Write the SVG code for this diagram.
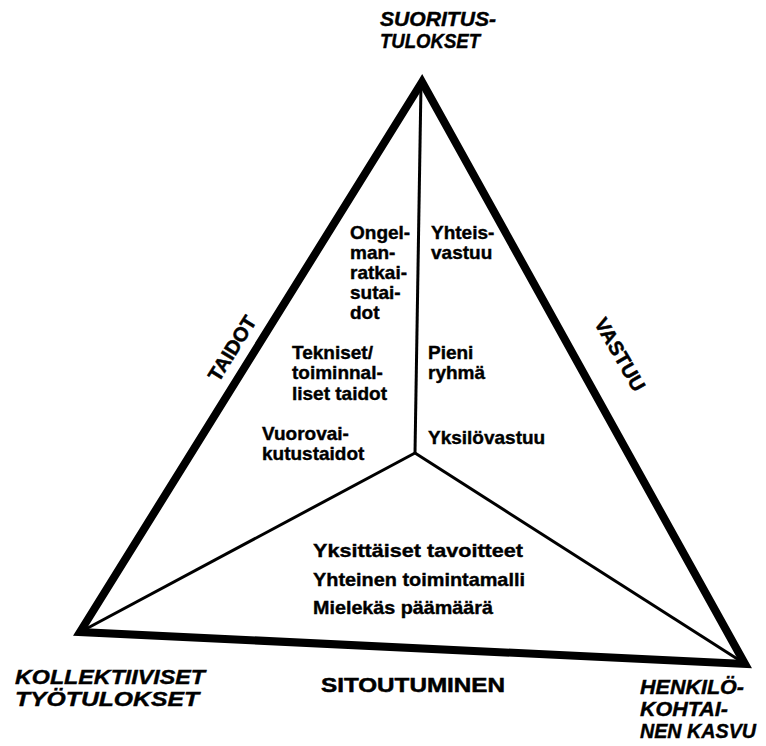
<svg xmlns="http://www.w3.org/2000/svg" width="766" height="746" viewBox="0 0 766 746">
<style>
.t{font-family:"Liberation Sans",Arial,sans-serif;font-weight:bold;font-size:19px;fill:#000;stroke:#000;stroke-width:0.4}
.c{font-family:"Liberation Sans",Arial,sans-serif;font-weight:bold;font-style:italic;font-size:20px;fill:#000;stroke:#000;stroke-width:0.4}
.h{font-family:"Liberation Sans",Arial,sans-serif;font-weight:bold;font-size:20px;fill:#000;stroke:#000;stroke-width:0.5}
.outer{fill:none;stroke:#000;stroke-width:8;stroke-linejoin:miter}
.inner{fill:none;stroke:#000;stroke-width:3}
</style>
<rect width="766" height="746" fill="#fff"/>
<g id="connectors">
<polygon class="outer" points="422,82 80,632 745,664"/>
<line class="inner" x1="421" y1="84" x2="415" y2="453"/>
<line class="inner" x1="415" y1="453" x2="84" y2="630"/>
<line class="inner" x1="415" y1="453" x2="739" y2="660"/>
</g>
<g id="suoritustulokset">
<text class="c" x="380" y="26" textLength="116" lengthAdjust="spacingAndGlyphs">SUORITUS-</text>
<text class="c" x="380" y="48" textLength="100" lengthAdjust="spacingAndGlyphs">TULOKSET</text>
</g>
<g id="kollektiiviset">
<text class="c" x="15" y="684" textLength="190" lengthAdjust="spacingAndGlyphs">KOLLEKTIIVISET</text>
<text class="c" x="15" y="706" textLength="184" lengthAdjust="spacingAndGlyphs">TYÖTULOKSET</text>
</g>
<g id="henkilokohtainen">
<text class="c" x="640" y="694" textLength="104" lengthAdjust="spacingAndGlyphs">HENKILÖ-</text>
<text class="c" x="640" y="716" textLength="88" lengthAdjust="spacingAndGlyphs">KOHTAI-</text>
<text class="c" x="640" y="738" textLength="116" lengthAdjust="spacingAndGlyphs">NEN KASVU</text>
</g>
<g id="sitoutuminen">
<text class="h" x="321" y="692" textLength="184" lengthAdjust="spacingAndGlyphs">SITOUTUMINEN</text>
</g>
<g id="taidot">
<text class="h" transform="translate(238,352) rotate(-58)" text-anchor="middle">TAIDOT</text>
</g>
<g id="vastuu">
<text class="h" transform="translate(614,358) rotate(60)" text-anchor="middle">VASTUU</text>
</g>
<g id="taidot-items">
<text class="t" x="350" y="239">Ongel-</text>
<text class="t" x="350" y="259">man-</text>
<text class="t" x="350" y="279">ratkai-</text>
<text class="t" x="350" y="299">sutai-</text>
<text class="t" x="350" y="319">dot</text>
<text class="t" x="292" y="359">Tekniset/</text>
<text class="t" x="292" y="379">toiminnal-</text>
<text class="t" x="292" y="400">liset taidot</text>
<text class="t" x="262" y="440">Vuorovai-</text>
<text class="t" x="262" y="460">kutustaidot</text>
</g>
<g id="vastuu-items">
<text class="t" x="431" y="239">Yhteis-</text>
<text class="t" x="431" y="259">vastuu</text>
<text class="t" x="428" y="359">Pieni</text>
<text class="t" x="428" y="379">ryhmä</text>
<text class="t" x="428" y="444">Yksilövastuu</text>
</g>
<g id="sitoutuminen-items">
<text class="t" x="313" y="557" textLength="210" lengthAdjust="spacingAndGlyphs">Yksittäiset tavoitteet</text>
<text class="t" x="313" y="586" textLength="212" lengthAdjust="spacingAndGlyphs">Yhteinen toimintamalli</text>
<text class="t" x="313" y="614" textLength="180" lengthAdjust="spacingAndGlyphs">Mielekäs päämäärä</text>
</g>
</svg>
